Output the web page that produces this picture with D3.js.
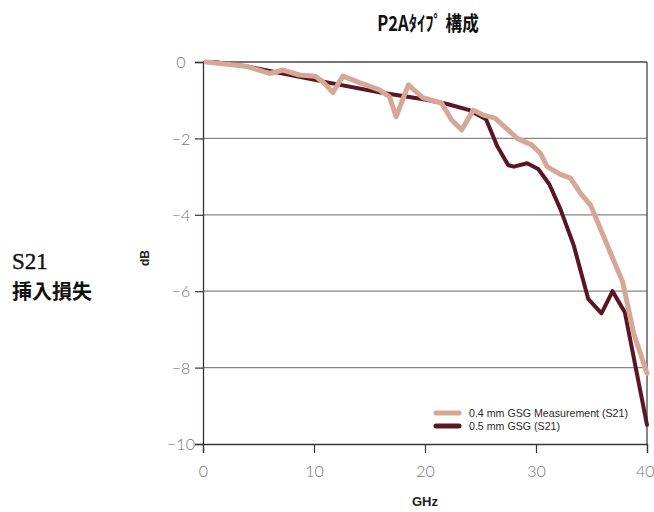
<!DOCTYPE html>
<html><head><meta charset="utf-8">
<script src="https://cdn.jsdelivr.net/npm/d3@7"></script>
<style>body{margin:0;background:#fff}svg{display:block}</style>
</head><body>
<svg id="c" width="654" height="512"></svg>
<script>
const xTicks = [0, 10, 20, 30, 40];
const yTicks = [0, -2, -4, -6, -8, -10];
const seriesNames = ["0.4 mm GSG Measurement (S21)", "0.5 mm GSG (S21)"];
const measFreq = [0.3, 2, 4, 6, 7.2, 8.7, 10.1, 10.8, 11.7, 12.6, 14.1, 15.9, 16.8, 17.4, 18.5, 19.8, 21.5, 22.4, 23.3, 24.35, 25.25, 26.3, 27.65, 28.3, 29.6, 30.4, 31.0, 32.2, 33.1, 34.0, 34.9, 36.1, 37.0, 37.8, 38.8, 40];
const measDb   = [0, -0.05, -0.12, -0.30, -0.21, -0.34, -0.37, -0.52, -0.80, -0.37, -0.54, -0.73, -0.91, -1.43, -0.60, -0.93, -1.08, -1.52, -1.78, -1.26, -1.39, -1.47, -1.82, -2.0, -2.17, -2.39, -2.74, -2.94, -3.04, -3.43, -3.74, -4.57, -5.2, -5.75, -7.1, -8.15];
const simFreq = [1, 4, 8, 12, 16, 20, 22, 24, 25.5, 26.5, 27.5, 28, 29.2, 30.2, 31.2, 32.2, 33.4, 34.7, 35.9, 36.9, 38.0, 40];
const simDb   = [0, -0.12, -0.35, -0.58, -0.8, -0.98, -1.1, -1.26, -1.5, -2.2, -2.7, -2.74, -2.65, -2.8, -3.2, -3.85, -4.8, -6.2, -6.58, -6.0, -6.55, -9.5];

const svg = d3.select("#c");
const L = 203, R = 647, T = 62, B = 444;
const x = d3.scaleLinear().domain([0, 40]).range([L, R]);
const y = d3.scaleLinear().domain([-10, 0]).range([B, T]);

// gridlines
svg.append("g").selectAll("line").data(yTicks.filter(d => d !== -10 && d !== 0)).join("line")
  .attr("x1", L).attr("x2", R).attr("y1", d => y(d)).attr("y2", d => y(d))
  .attr("stroke", "#8a8686").attr("stroke-width", 1.2);
// frame top & right
svg.append("line").attr("x1", L).attr("x2", R).attr("y1", y(0)).attr("y2", y(0)).attr("stroke", "#4a4444").attr("stroke-width", 1.3);
svg.append("line").attr("x1", R).attr("x2", R).attr("y1", T).attr("y2", B).attr("stroke", "#4a4444").attr("stroke-width", 1.3);

const tickFont = "Lato, 'DejaVu Sans', sans-serif";
// axes
const yAxis = d3.axisLeft(y).tickValues(yTicks).tickSize(8).tickFormat(d3.format("d"));
const gy = svg.append("g").attr("transform", `translate(${L},0)`).call(yAxis);
gy.select(".domain").attr("stroke", "#3a3232").attr("stroke-width", 1.3);
gy.selectAll(".tick line").attr("stroke", "#3a3232").attr("stroke-width", 1.2);
gy.selectAll(".tick text").attr("x", -22).attr("dy", "0.36em").attr("text-anchor", "middle").attr("fill", "#7a7474")
  .attr("font-family", tickFont).attr("font-weight", 300).attr("font-size", 16);

const xAxis = d3.axisBottom(x).tickValues(xTicks).tickSize(9);
const gx = svg.append("g").attr("transform", `translate(0,${B})`).call(xAxis);
gx.select(".domain").attr("stroke", "#3a3232").attr("stroke-width", 1.3);
gx.selectAll(".tick line").attr("stroke", "#3a3232").attr("stroke-width", 1.2);
gx.selectAll(".tick text").attr("y", 22).attr("fill", "#7a7474")
  .attr("font-family", tickFont).attr("font-weight", 300).attr("font-size", 16)
  .attr("text-anchor", d => d === 40 ? "end" : "middle")
  .attr("x", d => d === 40 ? 7 : 0);

// lines
const line = d3.line().x(d => x(d[0])).y(d => y(d[1])).curve(d3.curveLinear);
const simPts = simFreq.map((f, i) => [f, simDb[i]]);
const measPts = measFreq.map((f, i) => [f, measDb[i]]);
const colors = ["#d6a797", "#5a1721"];
svg.append("path").datum(simPts).attr("d", line).attr("fill", "none").attr("stroke", colors[1])
  .attr("stroke-width", 4).attr("stroke-linejoin", "round").attr("stroke-linecap", "round");
svg.append("path").datum(measPts).attr("d", line).attr("fill", "none").attr("stroke", colors[0])
  .attr("stroke-width", 5).attr("stroke-linejoin", "round").attr("stroke-linecap", "round");

// legend
const lg = svg.append("g");
const legendW = [159, 91];
seriesNames.forEach((n, i) => {
  const yy = 413 + i * 13;
  lg.append("line").attr("x1", 436).attr("x2", 459).attr("y1", yy).attr("y2", yy)
    .attr("stroke", colors[i]).attr("stroke-width", 5).attr("stroke-linecap", "round");
  lg.append("text").attr("x", 469).attr("y", yy + 4).text(n)
    .attr("textLength", legendW[i]).attr("lengthAdjust", "spacingAndGlyphs")
    .attr("font-family", "'Liberation Sans', sans-serif")
    .attr("font-size", 11).attr("fill", "#2a2a2a");
});

// titles
svg.append("text").attr("transform", "translate(428,31) scale(0.92,1.15)").attr("text-anchor", "middle")
  .attr("font-family", "'Noto Sans CJK JP', sans-serif").attr("font-weight", 700).attr("font-size", 18)
  .attr("fill", "#111").text("P2Aﾀｲﾌﾟ 構成");
svg.append("text").attr("x", 12).attr("y", 269)
  .attr("font-family", "'Liberation Serif', serif").attr("font-size", 23).attr("fill", "#111")
  .attr("stroke", "#111").attr("stroke-width", 0.4).text("S21");
svg.append("text").attr("x", 12).attr("y", 299)
  .attr("font-family", "'Noto Sans CJK JP', sans-serif").attr("font-weight", 700).attr("font-size", 20)
  .attr("fill", "#111").text("挿入損失");
svg.append("text").attr("transform", "translate(149,258) rotate(-90)").attr("text-anchor", "middle")
  .attr("font-family", "'Liberation Sans', sans-serif").attr("font-weight", 700).attr("font-size", 12)
  .attr("fill", "#222").text("dB");
svg.append("text").attr("x", 425).attr("y", 506).attr("text-anchor", "middle")
  .attr("font-family", "'Liberation Sans', sans-serif").attr("font-weight", 700).attr("font-size", 13)
  .attr("fill", "#222").text("GHz");
</script>
</body></html>
